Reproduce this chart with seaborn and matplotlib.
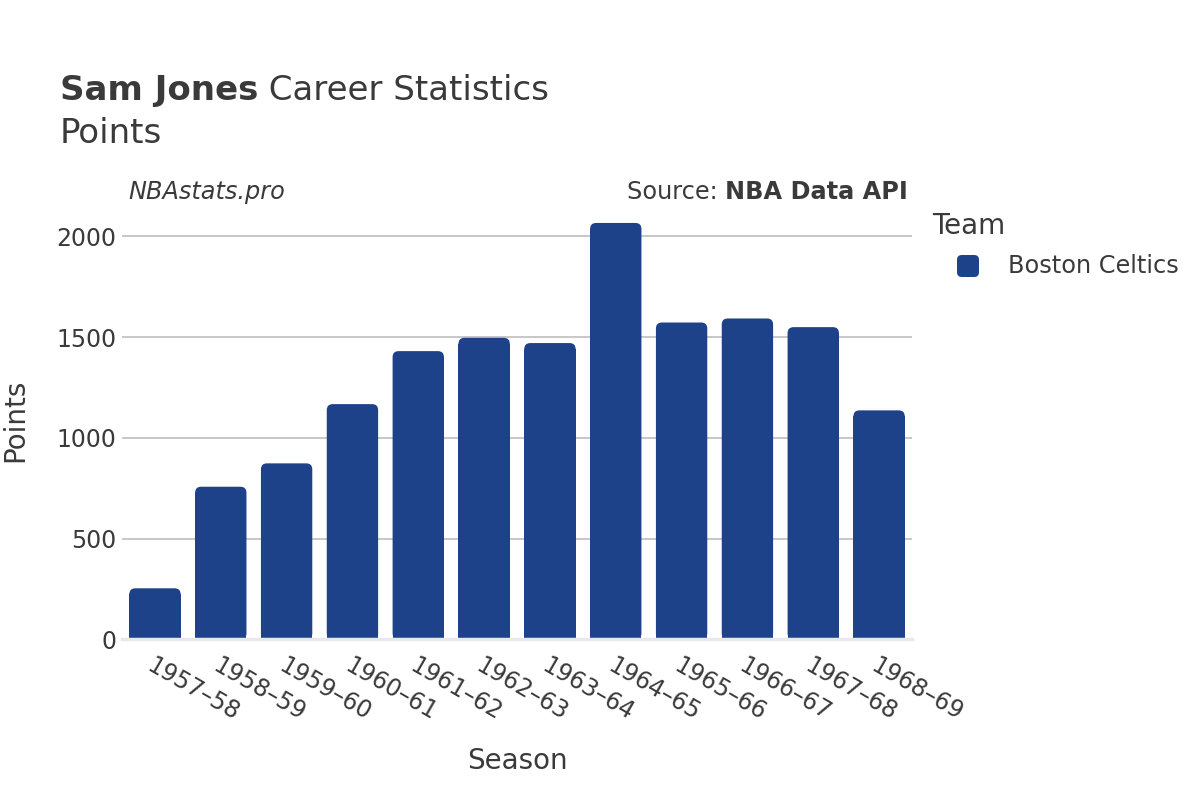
import matplotlib
matplotlib.use("Agg")
import matplotlib.pyplot as plt
import seaborn as sns
import pandas as pd
from matplotlib.patches import FancyBboxPatch

seasons = ["1957-58", "1958-59", "1959-60", "1960-61", "1961-62", "1962-63",
           "1963-64", "1964-65", "1965-66", "1966-67", "1967-68", "1968-69"]
points = [253, 757, 873, 1167, 1430, 1496, 1470, 2066, 1572, 1592, 1549, 1136]
teams = ["Boston Celtics"] * len(seasons)
tick_labels = [s.replace("-", "–") for s in seasons]

BAR = "#1D428A"
TXT = "#3a3a3a"

sns.set_theme(style="white")
plt.rcParams["font.family"] = ["DejaVu Sans"]

df = pd.DataFrame({"Season": seasons, "Points": points, "Team": teams})

fig = plt.figure(figsize=(12, 8), dpi=100)
ax = fig.add_axes([0.1017, 0.2009, 0.6583, 0.5466])

sns.barplot(data=df, x="Season", y="Points", hue="Team", palette=[BAR],
            width=0.78, ax=ax, legend=False, saturation=1)

ax.set_xlim(-0.5, len(seasons) - 0.5)
ax.set_ylim(0, 2170)

# rounded tops
fig.canvas.draw()
bbox = ax.get_window_extent()
px_per_x = bbox.width / (len(seasons))
px_per_y = bbox.height / 2170
rx = 6 / px_per_x
ry = 6 / px_per_y
for p in list(ax.patches):
    x, y = p.get_x(), p.get_y()
    w, h = p.get_width(), p.get_height()
    p.set_height(max(h - ry, 0))
    p.set_linewidth(0)
    fb = FancyBboxPatch((x, y), w, h,
                        boxstyle=f"round,pad=0,rounding_size={rx}",
                        mutation_aspect=ry / rx,
                        facecolor=BAR, edgecolor="none", zorder=p.get_zorder())
    ax.add_patch(fb)

ax.set_yticks([0, 500, 1000, 1500, 2000])
ax.yaxis.grid(True, color="#bdbdbd", linewidth=1.2)
ax.set_axisbelow(True)
for s in ["top", "right", "left"]:
    ax.spines[s].set_visible(False)
ax.spines["bottom"].set_color("#e8e8ee")
ax.spines["bottom"].set_linewidth(2.5)
ax.tick_params(axis="both", length=0, labelsize=17, colors=TXT)
ax.tick_params(axis="y", pad=4)
ax.set_xticks(range(len(seasons)))
ax.set_xticklabels(tick_labels, rotation=-30, ha="left", va="top",
                   rotation_mode="anchor")
ax.tick_params(axis="x", pad=10)
ax.set_xlabel("Season", fontsize=20, color=TXT)
ax.set_ylabel("Points", fontsize=20, color=TXT)
ax.xaxis.set_label_coords(0.5, -0.247)
ax.yaxis.set_label_coords(-0.118, 0.5)

# titles
r = fig.canvas.get_renderer()
t1 = fig.text(60 / 1200, 1 - 100 / 800, "Sam Jones", fontsize=24.5,
              fontweight="bold", color=TXT, va="baseline", ha="left")
ext = t1.get_window_extent(renderer=r)
fig.text((ext.x1) / 1200, 1 - 100 / 800, " Career Statistics", fontsize=24.5,
         color=TXT, va="baseline", ha="left")
fig.text(60 / 1200, 1 - 143 / 800, "Points", fontsize=24.5, color=TXT,
         va="baseline", ha="left")

fig.text(128 / 1200, 1 - 192 / 800, "NBAstats.pro", fontsize=17.3,
         style="italic", color=TXT, va="center", ha="left")
t2 = fig.text(908 / 1200, 1 - 192 / 800, "NBA Data API", fontsize=17.3,
              fontweight="bold", color=TXT, va="center", ha="right")
ext2 = t2.get_window_extent(renderer=r)
fig.text(ext2.x0 / 1200, 1 - 192 / 800, "Source: ", fontsize=17.3,
         color=TXT, va="center", ha="right")

# legend
fig.text(932 / 1200, 1 - 226 / 800, "Team", fontsize=20, color=TXT,
         va="center", ha="left")
fig.patches.append(FancyBboxPatch((957 / 1200, 1 - 277 / 800), 22 / 1200, 22 / 800,
                                  boxstyle="round,pad=0,rounding_size=0.004",
                                  mutation_aspect=1.5,
                                  transform=fig.transFigure, facecolor=BAR,
                                  edgecolor="none"))
fig.text(1008 / 1200, 1 - 266 / 800, "Boston Celtics", fontsize=17.3,
         color=TXT, va="center", ha="left")

fig.savefig("out.png", dpi=100, facecolor="white")
